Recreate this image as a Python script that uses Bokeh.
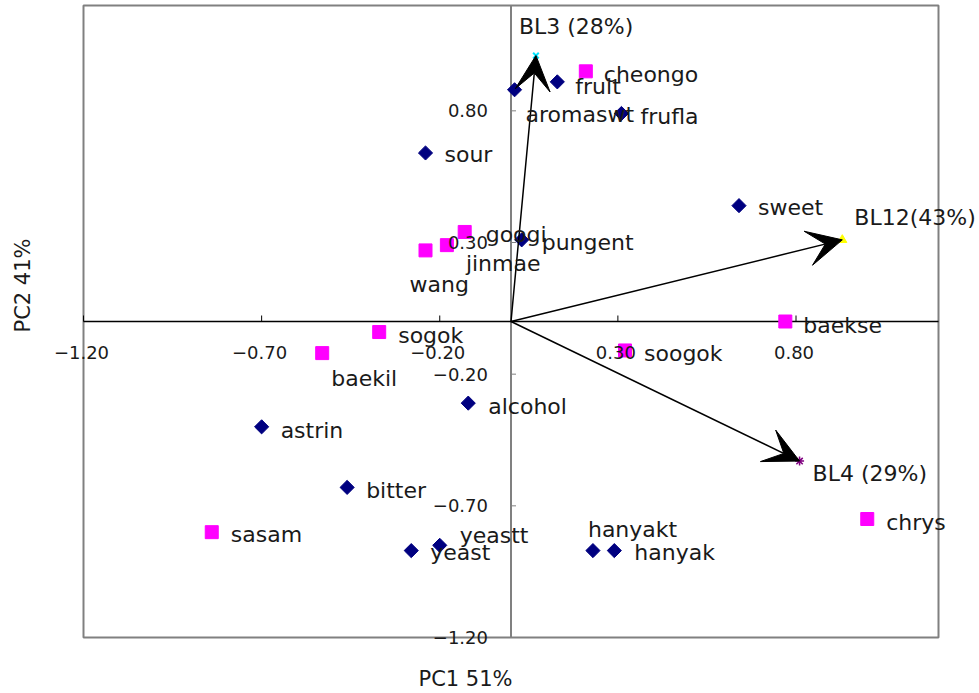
import math

from bokeh.core.properties import value
from bokeh.embed import file_html
from bokeh.models import (Arrow, ColumnDataSource, Label, LabelSet, Range1d,
                          VeeHead)
from bokeh.plotting import figure
from bokeh.resources import INLINE

# Sensory attributes (loadings)
attr_names = ["aromaswt", "fruit", "frufla", "sour", "sweet", "pungent", "alcohol",
              "astrin", "bitter", "yeastt", "yeast", "hanyakt", "hanyak"]
attr_pc1 = [0.01, 0.13, 0.31, -0.24, 0.64, 0.03, -0.12, -0.70, -0.46, -0.20, -0.28, 0.23, 0.29]
attr_pc2 = [0.88, 0.91, 0.79, 0.64, 0.44, 0.31, -0.31, -0.40, -0.63, -0.85, -0.87, -0.87, -0.87]

# Samples (scores)
sample_names = ["cheongo", "googi", "jinmae", "wang", "sogok", "baekil", "soogok",
                "baekse", "chrys", "sasam"]
sample_pc1 = [0.21, -0.13, -0.18, -0.24, -0.37, -0.53, 0.32, 0.77, 1.00, -0.84]
sample_pc2 = [0.95, 0.34, 0.29, 0.27, -0.04, -0.12, -0.11, 0.00, -0.75, -0.80]

# Segment vectors
vec_names = ["BL3 (28%)", "BL12(43%)", "BL4 (29%)"]
vec_pc1 = [0.07, 0.93, 0.81]
vec_pc2 = [1.01, 0.31, -0.53]

# Tick values shared by both axes
tick_values = [-1.20, -0.70, -0.20, 0.30, 0.80]
tick_labels = ["\u22121.20", "\u22120.70", "\u22120.20", "0.30", "0.80"]

x_title = "PC1 51%"
y_title = "PC2 41%"

# label nudges in pixels (right, down)
attr_nudge = {
    "aromaswt": (11, 25), "fruit": (18, 5), "frufla": (19, 3), "sour": (19, 2),
    "sweet": (19, 2), "pungent": (20, 3), "alcohol": (20, 3), "astrin": (19, 4),
    "bitter": (19, 3), "yeastt": (20, -10), "yeast": (19, 2), "hanyakt": (-5, -21),
    "hanyak": (20, 2),
}
sample_nudge = {
    "cheongo": (18, 3), "googi": (21, 3), "jinmae": (19, 18), "wang": (-16, 34),
    "sogok": (19, 3), "baekil": (9, 25), "soogok": (19, 3), "baekse": (18, 4),
    "chrys": (19, 3), "sasam": (19, 2),
}
vec_nudge = {"BL3 (28%)": (-17, -29), "BL12(43%)": (12, -22), "BL4 (29%)": (13, 12)}

FONT = "DejaVu Sans"
TEXT = "#1a1a1a"

# Canvas and plotting box (pixels). The Bokeh frame spans the whole canvas so
# that labels may spill past the box edge; the ranges are widened accordingly.
W, H = 979, 693
BOX_L, BOX_R, BOX_T, BOX_B = 83, 938, 5, 637
LIM = 1.2
xs = 2 * LIM / (BOX_R - BOX_L)
ys = 2 * LIM / (BOX_B - BOX_T)
x_range = Range1d(-LIM - BOX_L * xs, LIM + (W - BOX_R) * xs)
y_range = Range1d(-LIM - (H - BOX_B) * ys, LIM + BOX_T * ys)

p = figure(width=W, height=H, x_range=x_range, y_range=y_range,
           x_axis_type=None, y_axis_type=None,
           toolbar_location=None, output_backend="svg", min_border=0)
p.background_fill_color = "white"
p.border_fill_color = "white"
p.outline_line_color = None

# plotting box and zero lines acting as axes
p.quad(left=[-LIM], right=[LIM], bottom=[-LIM], top=[LIM],
       fill_color=None, line_color="#808080", line_width=2)
p.segment(x0=[0], y0=[-LIM], x1=[0], y1=[LIM], line_color="#808080", line_width=2)
p.segment(x0=[-LIM], y0=[0], x1=[LIM], y1=[0], line_color="black", line_width=1.5)

zeros = [0] * len(tick_values)
p.ray(x=tick_values, y=zeros, length=6, length_units="screen",
      angle=math.pi / 2, line_color="black", line_width=1)
p.ray(x=zeros, y=tick_values, length=5, length_units="screen",
      angle=0, line_color="#808080", line_width=1)

xt_src = ColumnDataSource(dict(x=tick_values, y=zeros, text=tick_labels))
yt_src = ColumnDataSource(dict(x=zeros, y=tick_values, text=tick_labels))
p.add_layout(LabelSet(x="x", y="y", text="text", source=xt_src,
                      x_offset=-2, y_offset=-31, text_align="center",
                      text_baseline="middle", text_font=value(FONT),
                      text_font_size="18px", text_color=TEXT))
p.add_layout(LabelSet(x="x", y="y", text="text", source=yt_src,
                      x_offset=-23, y_offset=0, text_align="right",
                      text_baseline="middle", text_font=value(FONT),
                      text_font_size="18px", text_color=TEXT))

# vectors with their end markers
vec_src = ColumnDataSource(dict(x0=[0] * 3, y0=[0] * 3, x1=vec_pc1, y1=vec_pc2))
p.scatter(x=vec_pc1[:1], y=vec_pc2[:1], marker="x", size=8,
          line_color="#00e5ff", line_width=2)
p.scatter(x=vec_pc1[1:2], y=vec_pc2[1:2], marker="triangle", size=9,
          fill_color="#ffff00", line_color="#ffff00")
p.scatter(x=vec_pc1[2:], y=vec_pc2[2:], marker="asterisk", size=9,
          line_color="#800080", line_width=1.5)
p.add_layout(Arrow(source=vec_src, x_start="x0", y_start="y0", x_end="x1", y_end="y1",
                   line_color="black", line_width=1.5,
                   end=VeeHead(size=35, fill_color="black", line_color="black")))

# attributes and samples
p.scatter(x=attr_pc1, y=attr_pc2, marker="square", angle=math.pi / 4, size=10,
          fill_color="#000080", line_color="#000080")
p.scatter(x=sample_pc1, y=sample_pc2, marker="square", size=13,
          fill_color="#ff00ff", line_color="#ff00ff")


def label_source(names, xv, yv, nudge):
    return ColumnDataSource(dict(
        x=xv, y=yv, text=names,
        dx=[nudge[n][0] for n in names],
        dy=[-nudge[n][1] for n in names],
    ))


for names, xv, yv, nudge in [(attr_names, attr_pc1, attr_pc2, attr_nudge),
                             (sample_names, sample_pc1, sample_pc2, sample_nudge),
                             (vec_names, vec_pc1, vec_pc2, vec_nudge)]:
    p.add_layout(LabelSet(x="x", y="y", text="text", x_offset="dx", y_offset="dy",
                          source=label_source(names, xv, yv, nudge),
                          text_align="left", text_baseline="middle",
                          text_font=value(FONT), text_font_size="22px",
                          text_color=TEXT))

# axis titles, placed in screen pixels measured from the bottom-left corner
p.add_layout(Label(x=465, y=15, x_units="screen", y_units="screen", text=x_title,
                   text_align="center", text_baseline="middle", text_font=FONT,
                   text_font_size="21px", text_color=TEXT))
p.add_layout(Label(x=22, y=H - 285, x_units="screen", y_units="screen", text=y_title,
                   angle=math.pi / 2, text_align="center", text_baseline="middle",
                   text_font=FONT, text_font_size="21px", text_color=TEXT))

open("out.html", "w").write(file_html(p, INLINE))
